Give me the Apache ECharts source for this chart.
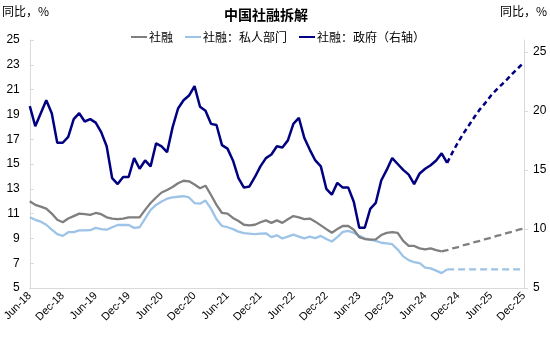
<!DOCTYPE html>
<html><head><meta charset="utf-8">
<script src="https://cdn.jsdelivr.net/npm/echarts@6/dist/echarts.min.js"></script>
<style>html,body{margin:0;padding:0;background:#fff}#c{width:550px;height:337px}</style>
</head><body><div id="c"></div>
<script>
// Categories: monthly Jun-18 .. Dec-25
const monthNames = ['Jan','Feb','Mar','Apr','May','Jun','Jul','Aug','Sep','Oct','Nov','Dec'];
const categories = [];
for (let y = 2018, m = 5; y < 2026; ) { categories.push(monthNames[m] + '-' + String(y).slice(2)); m++; if (m > 11) { m = 0; y++; } }

const leftTicks = [5,7,9,11,13,15,17,19,21,23,25];
const rightTicks = [5,10,15,20,25];

// 社融 (left axis), Jun-18 .. Sep-24
const tsfTotal = [12.0,11.7,11.56,11.4,11.0,10.5,10.3,10.6,10.8,11.0,10.95,10.9,11.05,10.95,10.7,10.6,10.55,10.6,10.7,10.7,
  10.7,11.3,11.85,12.3,12.7,12.9,13.15,13.45,13.65,13.6,13.35,13.05,13.25,12.5,11.7,11.05,11.0,10.65,10.4,10.1,
  10.05,10.1,10.3,10.45,10.25,10.45,10.25,10.55,10.8,10.7,10.55,10.6,10.35,10.05,9.75,9.45,9.75,10.0,10.0,9.7,
  9.1,8.95,8.9,8.92,9.27,9.45,9.5,9.45,8.8,8.4,8.39,8.2,8.12,8.2,8.05,7.95];
// 社融 forecast Sep-24 .. Dec-25
const tsfTotalF = [7.95,8.05,8.2,8.3,8.45,8.55,8.7,8.8,8.95,9.05,9.2,9.3,9.45,9.55,9.7,9.8];

// 社融：私人部门 (left axis), Jun-18 .. Oct-24
const tsfPrivate = [10.7,10.5,10.35,10.1,9.7,9.35,9.2,9.5,9.5,9.65,9.65,9.66,9.85,9.75,9.7,9.9,10.08,10.08,10.08,9.85,
  9.9,10.6,11.3,11.7,11.98,12.2,12.31,12.36,12.4,12.3,11.85,11.8,12.05,11.4,10.55,10.0,9.9,9.75,9.55,9.42,
  9.38,9.35,9.38,9.41,9.1,9.25,9.0,9.15,9.3,9.15,9.0,9.14,9.02,9.2,8.95,8.75,9.1,9.52,9.6,9.45,
  9.2,9.0,8.9,8.8,8.65,8.6,8.53,8.1,7.55,7.25,7.08,7.0,6.65,6.58,6.4,6.2,6.5];
// 私人部门 forecast Oct-24 .. Dec-25
const tsfPrivateF = [6.5,6.5,6.5,6.5,6.5,6.5,6.5,6.5,6.5,6.5,6.5,6.5,6.5,6.5,6.5];

// 社融：政府 (right axis), Jun-18 .. Oct-24
const tsfGov = [20.4,18.7,19.8,20.9,19.8,17.3,17.3,17.8,19.3,19.8,19.1,19.3,19.0,18.2,17.0,14.3,13.8,14.4,14.4,16.0,
  15.1,15.8,15.3,17.25,17.0,16.5,18.6,20.2,20.9,21.3,22.1,20.35,20.0,18.9,18.8,17.1,16.8,15.8,14.3,13.5,
  13.6,14.4,15.3,16.0,16.3,17.0,16.9,17.5,18.9,19.4,17.7,16.7,15.8,15.3,13.4,12.9,13.9,13.5,13.5,12.3,
  10.1,10.1,11.7,12.2,14.1,15.0,16.0,15.5,15.0,14.6,13.8,14.7,15.1,15.4,15.8,16.4,15.6];
// 政府 forecast Oct-24 .. Dec-25
const tsfGovF = [15.6,16.5,17.35,18.1,18.8,19.5,20.15,20.7,21.3,21.8,22.25,22.7,23.2,23.65,24.1];

const N = categories.length;
function padTail(arr){ const out = arr.slice(); while (out.length < N) out.push(null); return out; }
function padHead(arr){ const out = new Array(N - arr.length).fill(null); return out.concat(arr); }

const C_GRAY = '#7F7F7F', C_LIGHT = '#9DC3E6', C_NAVY = '#000080';
const FONT = 'Liberation Sans, Arial, Noto Sans CJK SC, sans-serif';
const CJK = 'Noto Sans CJK SC, sans-serif';

const chart = echarts.init(document.getElementById('c'), null, {renderer:'canvas'});
chart.setOption({
  animation: false,
  backgroundColor: '#fff',
  title: { text: '中国社融拆解', left: 219, top: 3, textStyle: { fontFamily: CJK, fontSize: 14, fontWeight: 'bold', color: '#000' } },
  graphic: [
    { type: 'text', left: 2, top: 5, style: { text: '同比，%', font: '12px ' + CJK, fill: '#000' } },
    { type: 'text', right: 3, top: 5, style: { text: '同比，%', font: '12px ' + CJK, fill: '#000' } }
  ],
  legend: {
    top: 26, left: 126, itemGap: 12, itemWidth: 16, itemHeight: 2,
    textStyle: { fontFamily: CJK, fontSize: 12, color: '#000', padding: [0,0,0,-3] },
    data: [
      { name: '社融', icon: 'rect', itemStyle: { color: C_GRAY } },
      { name: '社融：私人部门', icon: 'rect', itemStyle: { color: C_LIGHT } },
      { name: '社融：政府（右轴）', icon: 'rect', itemStyle: { color: C_NAVY } }
    ]
  },
  grid: { left: 28, right: 26, top: 40, bottom: 49, containLabel: false },
  xAxis: {
    type: 'category', data: categories, boundaryGap: false,
    axisLine: { lineStyle: { color: '#D9D9D9', width: 1 } },
    axisTick: { show: false },
    axisLabel: {
      interval: 5, rotate: 45, fontFamily: FONT, fontSize: 11, color: '#000', margin: 6
    },
    splitLine: { show: false }
  },
  yAxis: [
    { type: 'value', min: 5, max: 25, interval: 2,
      axisLine: { show: true, lineStyle: { color: '#D9D9D9' } },
      axisTick: { show: true, inside: true, length: 4, lineStyle: { color: '#D9D9D9' } },
      axisLabel: { fontFamily: FONT, fontSize: 12, color: '#000', margin: 10 },
      splitLine: { show: false } },
    { type: 'value', min: 5, max: 26, interval: 5, position: 'right',
      axisLine: { show: true, lineStyle: { color: '#D9D9D9' } },
      axisTick: { show: true, length: 4, lineStyle: { color: '#D9D9D9' } },
      axisLabel: { fontFamily: FONT, fontSize: 12, color: '#000', margin: 9, showMaxLabel: false },
      splitLine: { show: false } }
  ],
  series: [
    { name: '社融', type: 'line', data: padTail(tsfTotal), yAxisIndex: 0, showSymbol: false, symbol: 'none',
      lineStyle: { color: C_GRAY, width: 2.3 }, itemStyle: { color: C_GRAY }, z: 3 },
    { name: '社融：私人部门', type: 'line', data: padTail(tsfPrivate), yAxisIndex: 0, showSymbol: false, symbol: 'none',
      lineStyle: { color: C_LIGHT, width: 2.3 }, itemStyle: { color: C_LIGHT }, z: 2 },
    { name: '社融：政府（右轴）', type: 'line', data: padTail(tsfGov), yAxisIndex: 1, showSymbol: false, symbol: 'none',
      lineStyle: { color: C_NAVY, width: 2.5 }, itemStyle: { color: C_NAVY }, z: 4 },
    { name: '社融预测', type: 'line', data: padHead(tsfTotalF), yAxisIndex: 0, showSymbol: false, symbol: 'none',
      lineStyle: { color: C_GRAY, width: 2.3, type: [7,4] }, z: 3 },
    { name: '私人部门预测', type: 'line', data: padHead(tsfPrivateF), yAxisIndex: 0, showSymbol: false, symbol: 'none',
      lineStyle: { color: C_LIGHT, width: 2.3, type: [7,4] }, z: 2 },
    { name: '政府预测', type: 'line', data: padHead(tsfGovF), yAxisIndex: 1, showSymbol: false, symbol: 'none',
      lineStyle: { color: C_NAVY, width: 2.5, type: [5,3.5] }, z: 4 }
  ]
});
</script></body></html>
